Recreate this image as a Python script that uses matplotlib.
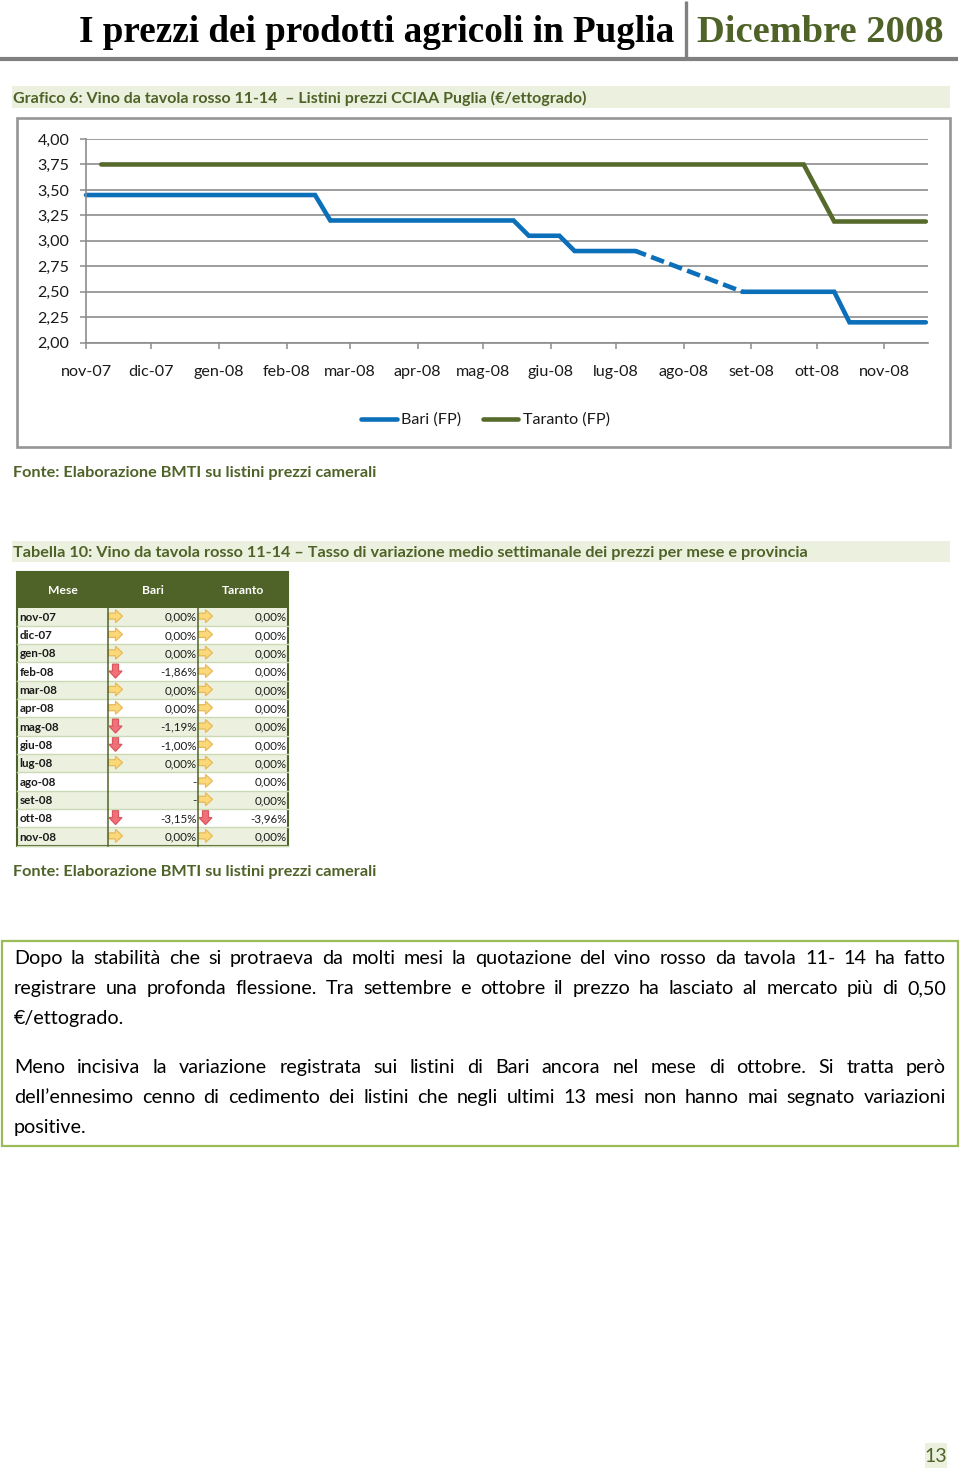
import numpy as np
import pandas as pd
from matplotlib import pyplot as plt
from matplotlib.patches import Rectangle, Polygon

plt.rcParams['font.family'] = ['Lato', 'DejaVu Sans']

GREEN = "#4f6228"
BAND = "#ebf1de"
GRID = "#8c8c8c"

header_left = "I prezzi dei prodotti agricoli in Puglia"
header_right = "Dicembre 2008"
chart_title = "Grafico 6: Vino da tavola rosso 11-14  – Listini prezzi CCIAA Puglia (€/ettogrado)"
table_title = "Tabella 10: Vino da tavola rosso 11-14 – Tasso di variazione medio settimanale dei prezzi per mese e provincia"
source = "Fonte: Elaborazione BMTI su listini prezzi camerali"

# weekly quotations, the first week is 1 nov 2007
weeks = pd.date_range("2007-11-01", periods=56, freq="7D")
nan = np.nan
bari = [3.45, 3.45, 3.45, 3.45, 3.45, 3.45, 3.45, 3.45,
        3.45, 3.45, 3.45, 3.45, 3.45, 3.45, 3.45, 3.45,
        3.20, 3.20, 3.20, 3.20, 3.20, 3.20, 3.20, 3.20,
        3.20, 3.20, 3.20, 3.20, 3.20, 3.05, 3.05, 3.05,
        2.90, 2.90, 2.90, 2.90, 2.90, nan, nan, nan,
        nan, nan, nan, 2.50, 2.50, 2.50, 2.50, 2.50,
        2.50, 2.50, 2.20, 2.20, 2.20, 2.20, 2.20, 2.20]
taranto = [nan, 3.75, 3.75, 3.75, 3.75, 3.75, 3.75, 3.75,
           3.75, 3.75, 3.75, 3.75, 3.75, 3.75, 3.75, 3.75,
           3.75, 3.75, 3.75, 3.75, 3.75, 3.75, 3.75, 3.75,
           3.75, 3.75, 3.75, 3.75, 3.75, 3.75, 3.75, 3.75,
           3.75, 3.75, 3.75, 3.75, 3.75, 3.75, 3.75, 3.75,
           3.75, 3.75, 3.75, 3.75, 3.75, 3.75, 3.75, 3.75,
           3.47, 3.19, 3.19, 3.19, 3.19, 3.19, 3.19, 3.19]
month_starts = ["2007-11-01", "2007-12-01", "2008-01-01", "2008-02-01", "2008-03-01",
                "2008-04-01", "2008-05-01", "2008-06-01", "2008-07-01", "2008-08-01",
                "2008-09-01", "2008-10-01", "2008-11-01"]
months = ["nov-07", "dic-07", "gen-08", "feb-08", "mar-08", "apr-08", "mag-08",
          "giu-08", "lug-08", "ago-08", "set-08", "ott-08", "nov-08"]
y_ticks = [2.00, 2.25, 2.50, 2.75, 3.00, 3.25, 3.50, 3.75, 4.00]

bari_var = ["0,00%", "0,00%", "0,00%", "-1,86%", "0,00%", "0,00%", "-1,19%",
            "-1,00%", "0,00%", "-", "-", "-3,15%", "0,00%"]
taranto_var = ["0,00%", "0,00%", "0,00%", "0,00%", "0,00%", "0,00%", "0,00%",
               "0,00%", "0,00%", "0,00%", "0,00%", "-3,96%", "0,00%"]

body_lines = [
    ("Dopo la stabilità che si protraeva da molti mesi la quotazione del vino rosso da tavola 11- 14 ha fatto", True),
    ("registrare una profonda flessione. Tra settembre e ottobre il prezzo ha lasciato al mercato più di 0,50", True),
    ("€/ettogrado.", False),
    None,
    ("Meno incisiva la variazione registrata sui listini di Bari ancora nel mese di ottobre. Si tratta però", True),
    ("dell’ennesimo cenno di cedimento dei listini che negli ultimi 13 mesi non hanno mai segnato variazioni", True),
    ("positive.", False),
]


def arrow(ax, x, y, kind):
    # little icons of the table, x and y are the middle of the icon
    if kind == "right":
        pts = [(-7, -3), (0, -3), (0, -6.5), (7, 0), (0, 6.5), (0, 3), (-7, 3)]
        ax.add_patch(Polygon([(x + a, y + b) for a, b in pts], fc="#fbd97a", ec="#e9b95a", lw=0.9))
    else:
        pts = [(-3, -7), (3, -7), (3, 0), (6.5, 0), (0, 7), (-6.5, 0), (-3, 0)]
        ax.add_patch(Polygon([(x + a, y + b) for a, b in pts], fc="#f2707a", ec="#d9575f", lw=0.9))


fig = plt.figure(figsize=(9.6, 14.73), dpi=100)

page = fig.add_axes([0, 0, 1, 1])
page.set_xlim(0, 960)
page.set_ylim(1473, 0)
page.axis("off")

# header
page.text(79, 42, header_left, family="Liberation Serif", weight="bold", fontsize=26.75, color="black")
page.text(697, 42, header_right, family="Liberation Serif", weight="bold", fontsize=27.7, color=GREEN)
page.plot([0, 958], [59, 59], color="#808080", lw=3.0, solid_capstyle="butt")
page.plot([686, 686], [1, 58], color="#808080", lw=2.4, solid_capstyle="butt")

# title bands
page.add_patch(Rectangle((12, 86), 938, 22, fc=BAND, ec="none"))
page.text(13, 98.5, chart_title, color=GREEN, weight="bold", fontsize=11.55, va="center")
page.add_patch(Rectangle((12, 541), 938, 21, fc=BAND, ec="none"))
page.text(13, 552.5, table_title, color=GREEN, weight="bold", fontsize=11.7, va="center")
page.text(13, 472.5, source, color=GREEN, weight="bold", fontsize=11.7, va="center")
page.text(13, 872, source, color=GREEN, weight="bold", fontsize=11.7, va="center")

# frame of the chart
page.add_patch(Rectangle((16.5, 118), 933, 328.5, fc="white", ec="#969696", lw=1.9))

# chart
ax = fig.add_axes([86 / 960, 1 - 342.7 / 1473, 842 / 960, 203.7 / 1473])
ax.patch.set_alpha(0)
ax.set_xlim(pd.Timestamp("2007-11-01"), pd.Timestamp("2008-11-21"))
ax.set_ylim(2, 4)
ax.set_yticks(y_ticks)
ax.set_yticklabels([("%.2f" % v).replace(".", ",") for v in y_ticks])
ax.set_xticks(pd.to_datetime(month_starts))
ax.set_xticklabels(months)
ax.grid(axis="y", color=GRID, lw=1.2)
ax.set_axisbelow(True)
for s in ["top", "right"]:
    ax.spines[s].set_visible(False)
for s in ["left", "bottom"]:
    ax.spines[s].set_color(GRID)
    ax.spines[s].set_linewidth(1.2)
ax.tick_params(axis="both", color=GRID, width=1.1, length=4, labelsize=11.6, labelcolor="#1a1a1a")
ax.tick_params(axis="x", pad=12)
ax.tick_params(axis="y", pad=8)

bari_arr = np.array(bari)
l1, = ax.plot(weeks, bari_arr, color="#0c6fba", lw=3.3, solid_capstyle="round",
              solid_joinstyle="miter", clip_on=False, label="Bari (FP)")
# missing weeks are bridged with a dashed line
gap = np.where(np.isnan(bari_arr))[0]
ax.plot([weeks[gap[0] - 1], weeks[gap[-1] + 1]], [bari_arr[gap[0] - 1], bari_arr[gap[-1] + 1]],
        color="#0c6fba", lw=3.3, ls=(0.6, (3.0, 1.2)), dash_capstyle="butt", clip_on=False)
l2, = ax.plot(weeks, taranto, color="#566a2c", lw=3.3, solid_capstyle="round",
              solid_joinstyle="miter", clip_on=False, label="Taranto (FP)")
ax.legend(handles=[l1, l2], loc="center", bbox_to_anchor=(485.5, 420), bbox_transform=page.transData,
          ncol=2, frameon=False, fontsize=11.6, handlelength=2.2, handletextpad=0.3,
          columnspacing=1.3, labelcolor="#1a1a1a")

# table
row_top = 607.5
row_h = 18.31
page.add_patch(Rectangle((17, 572), 271, 35.5, fc=GREEN, ec="none"))
for x, name in zip([63, 153, 243.5], ["Mese", "Bari", "Taranto"]):
    page.text(x, 590.5, name, color="white", weight="bold", fontsize=8.7, ha="center", va="center")
for i, m in enumerate(months):
    y0 = row_top + i * row_h
    yc = y0 + row_h / 2
    if i % 2 == 0:
        page.add_patch(Rectangle((17, y0), 271, row_h, fc=BAND, ec="none"))
    page.plot([17, 288], [y0 + row_h, y0 + row_h], color="#ccd9b5", lw=1.0)
    page.text(19.5, yc + 0.7, m, color="#1a1a1a", weight="bold", fontsize=8.4, va="center")
    for x_arrow, x_val, val in [(115.5, 196.5, bari_var[i]), (205.5, 286.5, taranto_var[i])]:
        page.text(x_val, yc + 0.7, val, color="#1a1a1a", fontsize=8.4, ha="right", va="center")
        if val != "-":
            arrow(page, x_arrow, yc - 0.5, "down" if val.startswith("-") else "right")
for x in [107.5, 197.5]:
    page.plot([x, x], [row_top, row_top + 13 * row_h], color=GREEN, lw=1.1)
page.add_patch(Rectangle((17, 572), 271, row_top + 13 * row_h - 572, fc="none", ec=GREEN, lw=1.5))

# comment box, justified by hand
page.add_patch(Rectangle((2, 941), 956, 205, fc="white", ec="#9bbb59", lw=1.6))
renderer = fig.canvas.get_renderer()
line_y = [964, 994, 1024, None, 1073, 1103, 1133]
for entry, y in zip(body_lines, line_y):
    if entry is None:
        continue
    line, justify = entry
    words = line.split(" ")
    arts = [page.text(14, y, w, fontsize=14.2, color="black", va="baseline") for w in words]
    widths = [a.get_window_extent(renderer).width for a in arts]
    space = (946 - 14 - sum(widths)) / (len(words) - 1) if justify else 4.5
    x = 14
    for a, w in zip(arts, widths):
        a.set_x(x)
        x += w + space

# page number
page.add_patch(Rectangle((925, 1443), 22, 25, fc=BAND, ec="none"))
page.text(936, 1456.5, "13", color=GREEN, fontsize=14, ha="center", va="center")

fig.savefig("out.png", dpi=100)
